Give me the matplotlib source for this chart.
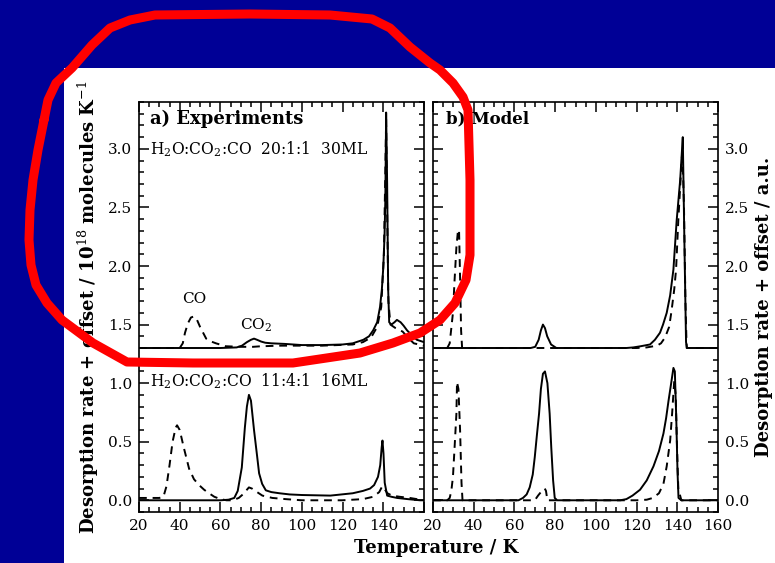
import matplotlib.pyplot as plt
import numpy as np
from matplotlib.ticker import MultipleLocator
from matplotlib.patches import Rectangle

plt.rcParams['font.family'] = 'DejaVu Serif'
plt.rcParams['mathtext.fontset'] = 'dejavuserif'

# offset applied to the upper (20:1:1) curves
offset = 1.3

# a) Experiments, upper mixture (20:1:1), values before offset
exp_top_T = [20, 60, 68, 70.6, 73, 75, 76.5, 78, 80, 82, 85, 91.5, 100, 110, 120, 125, 130.2, 133,
             135, 137, 138.4, 139.3, 140, 140.6, 141, 141.4, 141.9, 142.4, 142.9, 144, 145.5,
             146.7, 148.5, 150, 151.7, 154, 156.5, 160]
exp_top_solid = [0, 0, 0.005, 0.02, 0.05, 0.07, 0.08, 0.07, 0.055, 0.045, 0.04, 0.035, 0.025, 0.025,
                 0.03, 0.04, 0.07, 0.1, 0.15, 0.22, 0.35, 0.5, 0.69, 0.95, 1.26, 2.01, 1.4, 0.5,
                 0.22, 0.2, 0.22, 0.24, 0.22, 0.19, 0.15, 0.11, 0.07, 0.05]
exp_top_dT = [20, 40, 41.5, 42.6, 44, 45.5, 47, 48.5, 50, 53, 55.5, 57.8, 62.6, 70, 76, 80, 90, 110,
              125, 130, 134, 137, 139, 140.3, 141, 141.4, 141.8, 142.5, 143.5, 146, 149.5, 152,
              155, 160]
exp_top_dash = [0, 0, 0.04, 0.13, 0.21, 0.26, 0.27, 0.24, 0.18, 0.08, 0.055, 0.04, 0.015, 0.01,
                0.01, 0.015, 0.02, 0.02, 0.03, 0.05, 0.09, 0.18, 0.35, 0.8, 1.5, 1.95, 1.3, 0.4,
                0.2, 0.17, 0.14, 0.09, 0.04, 0.02]

# a) Experiments, lower mixture (11:4:1)
exp_bot_T = [20, 60, 64, 66.8, 68.5, 70.5, 72, 73, 74, 75, 76.5, 78, 79, 80.5, 82.3, 85, 89, 94,
             100, 114, 125, 130, 133.5, 135.5, 137.4, 138.5, 139.2, 139.6, 140.1, 140.7, 141.9,
             144, 146.8, 152, 158, 160]
exp_bot_solid = [0, 0, 0.005, 0.02, 0.08, 0.28, 0.62, 0.8, 0.9, 0.85, 0.6, 0.38, 0.23, 0.14, 0.085,
                 0.07, 0.06, 0.05, 0.045, 0.04, 0.06, 0.08, 0.1, 0.13, 0.2, 0.3, 0.45, 0.51, 0.4,
                 0.15, 0.04, 0.03, 0.02, 0.01, 0.0, 0.0]
exp_bot_dT = [20, 30, 32, 33.5, 35, 36.5, 38, 38.7, 40, 42, 44.6, 47, 49.5, 52, 54.4, 57, 60, 63,
              66, 69, 71, 73, 74, 75.5, 78, 80.6, 85.5, 92, 100, 120, 130, 135, 138, 139.5, 140.5,
              142, 144.3, 148, 153, 160]
exp_bot_dash = [0.02, 0.02, 0.03, 0.12, 0.3, 0.5, 0.62, 0.64, 0.6, 0.45, 0.27, 0.18, 0.13, 0.09,
                0.06, 0.03, 0.01, 0.0, 0.0, 0.02, 0.05, 0.09, 0.11, 0.1, 0.07, 0.04, 0.02, 0.01,
                0.0, 0.0, 0.01, 0.03, 0.07, 0.12, 0.1, 0.06, 0.04, 0.03, 0.02, 0.0]

# b) Model, upper mixture
mod_top_T = [20, 68, 70.2, 71.9, 73, 74, 75, 76.1, 78, 80.6, 100, 115, 118.4, 122, 126.6, 129,
             131.5, 133, 134.8, 136.5, 138.1, 139.7, 140.5, 141.4, 142, 142.7, 143.5, 144.3,
             144.8, 160]
mod_top_solid = [0, 0, 0.01, 0.07, 0.15, 0.2, 0.17, 0.1, 0.03, 0, 0, 0, 0.005, 0.015, 0.03, 0.07,
                 0.13, 0.2, 0.3, 0.45, 0.67, 1.09, 1.25, 1.43, 1.6, 1.8, 0.9, 0.05, 0, 0]
mod_top_dT = [20, 27, 28.2, 29.8, 30.6, 31.5, 32.3, 32.8, 33.3, 33.8, 34.3, 40, 120, 125, 130, 132,
              134, 136, 137.2, 138.5, 139.4, 140.5, 141.5, 142.5, 143.3, 144, 144.6, 160]
mod_top_dash = [0, 0, 0.04, 0.3, 0.58, 0.86, 1.01, 1.0, 0.6, 0.15, 0, 0, 0, 0.005, 0.02, 0.04,
                0.09, 0.18, 0.32, 0.5, 0.67, 1.09, 1.4, 1.7, 1.2, 0.4, 0.0, 0.0]

# b) Model, lower mixture
mod_bot_T = [20, 62, 64.2, 66, 67.5, 69, 70, 71, 72.1, 73, 74, 75, 76.2, 77.3, 78.1, 79, 79.8, 81,
             100, 112, 115, 118, 121.7, 125, 128.3, 131, 133.2, 134.5, 135.7, 137, 138.1, 138.8,
             139.5, 140.1, 140.6, 142, 160]
mod_bot_solid = [0, 0, 0.02, 0.05, 0.11, 0.22, 0.37, 0.55, 0.74, 0.95, 1.08, 1.1, 1.0, 0.74, 0.45,
                 0.17, 0.02, 0, 0, 0, 0.01, 0.04, 0.09, 0.17, 0.29, 0.42, 0.57, 0.7, 0.85, 1.0,
                 1.13, 1.1, 0.7, 0.25, 0.02, 0, 0]
mod_bot_dT = [20, 27, 28.2, 29, 29.8, 30.6, 31.5, 31.8, 32.5, 33.3, 34, 34.5, 40, 70, 71.6, 73,
              74.9, 75.5, 76.2, 80, 120, 125, 128, 131, 133.2, 134.8, 136.5, 137.5, 138.5, 139.2,
              139.8, 140.5, 142, 160]
mod_bot_dash = [0, 0, 0.02, 0.08, 0.2, 0.45, 0.74, 1.01, 0.95, 0.6, 0.15, 0, 0, 0, 0.04, 0.07,
                0.1, 0.08, 0, 0, 0, 0.005, 0.02, 0.06, 0.14, 0.29, 0.51, 0.75, 1.02, 0.9, 0.5, 0.1,
                0, 0]

xticks = [20, 40, 60, 80, 100, 120, 140, 160]

# hand-drawn red loop on the slide (pixel coordinates)
loop_x = [44, 38, 33, 30, 29, 31, 36, 47, 62, 93, 127, 193, 293, 360, 393, 420, 440, 455, 466,
          470, 470, 468, 463, 453, 440, 430, 410, 390, 372, 330, 250, 155, 130, 110, 92, 72, 56,
          48, 44]
loop_y = [120, 150, 180, 210, 240, 265, 285, 303, 320, 343, 362, 363, 363, 353, 343, 333, 320,
          303, 280, 255, 180, 110, 97, 83, 70, 63, 47, 28, 19, 15, 14, 15, 20, 28, 45, 68, 83,
          100, 120]

W, H = 775, 563
fig = plt.figure(figsize=(7.75, 5.63), dpi=100, facecolor='#000096')
fig.add_artist(Rectangle((64 / W, 0), 1 - 64 / W, (H - 68) / H, transform=fig.transFigure,
                         facecolor='white', edgecolor='none', zorder=-5))

ax1 = fig.add_axes([139 / W, 1 - 512 / H, 285 / W, 410 / H])
ax2 = fig.add_axes([433 / W, 1 - 512 / H, 285 / W, 410 / H])

lw = 1.4
dash = (4, 3)
ax1.plot(exp_top_T, np.array(exp_top_solid) + offset, 'k-', lw=lw)
ax1.plot(exp_top_dT, np.array(exp_top_dash) + offset, 'k--', lw=lw, dashes=dash)
ax1.plot(exp_bot_T, exp_bot_solid, 'k-', lw=lw)
ax1.plot(exp_bot_dT, exp_bot_dash, 'k--', lw=lw, dashes=dash)

ax2.plot(mod_top_T, np.array(mod_top_solid) + offset, 'k-', lw=lw)
ax2.plot(mod_top_dT, np.array(mod_top_dash) + offset, 'k--', lw=lw, dashes=dash)
ax2.plot(mod_bot_T, mod_bot_solid, 'k-', lw=lw)
ax2.plot(mod_bot_dT, mod_bot_dash, 'k--', lw=lw, dashes=dash)

for ax in (ax1, ax2):
    ax.set_xlim(20, 160)
    ax.set_ylim(-0.1, 3.4)
    ax.xaxis.set_major_locator(MultipleLocator(20))
    ax.xaxis.set_minor_locator(MultipleLocator(5))
    ax.yaxis.set_major_locator(MultipleLocator(0.5))
    ax.yaxis.set_minor_locator(MultipleLocator(0.1))
    ax.tick_params(which='both', direction='in', top=True, right=True, width=1.1,
                   labelsize=11, pad=5)
    ax.tick_params(which='major', length=7)
    ax.tick_params(which='minor', length=3.5)
    for s in ax.spines.values():
        s.set_linewidth(1.2)

ax1.set_xticks(xticks, labels=[str(t) for t in xticks[:-1]] + [''])
ax2.set_xticks(xticks, labels=[str(t) for t in xticks])
ax2.tick_params(labelleft=False, labelright=True)
ax2.yaxis.set_label_position('right')

ax1.set_ylabel('Desorption rate + offset / 10$^{18}$ molecules K$^{-1}$', fontsize=13,
               fontweight='bold', labelpad=5)
ax2.set_ylabel('Desorption rate + offset / a.u.', fontsize=13, fontweight='bold', labelpad=4)
fig.text(436 / W, 1 - 548 / H, 'Temperature / K', fontsize=13, fontweight='bold',
         ha='center', va='center')

ax1.text(25.4, 3.26, 'a) Experiments', fontsize=13, fontweight='bold', va='center')
ax1.text(25.4, 3.0, 'H$_2$O:CO$_2$:CO  20:1:1  30ML', fontsize=11.2, va='center')
ax1.text(25.4, 1.02, 'H$_2$O:CO$_2$:CO  11:4:1  16ML', fontsize=11.2, va='center')
ax1.text(47, 1.72, 'CO', fontsize=11, ha='center', va='center')
ax1.text(77.5, 1.49, 'CO$_2$', fontsize=11, ha='center', va='center')
ax2.text(26.4, 3.26, 'b) Model', fontsize=12, fontweight='bold', va='center')

# red annotation loop on top of everything
ov = fig.add_axes([0, 0, 1, 1], zorder=10)
ov.set_xlim(0, W)
ov.set_ylim(H, 0)
ov.axis('off')
ov.patch.set_alpha(0)
ov.plot(loop_x, loop_y, color='#ff0000', lw=6.5, solid_capstyle='round', solid_joinstyle='round')

fig.savefig('out.png', dpi=100, facecolor=fig.get_facecolor())
